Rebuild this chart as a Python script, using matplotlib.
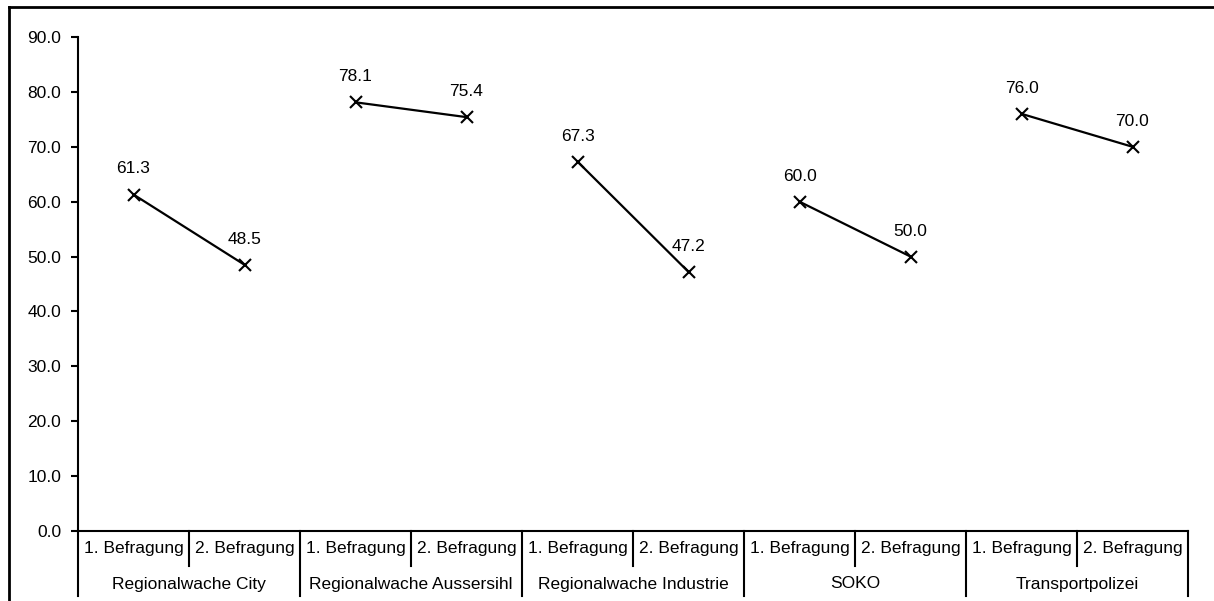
import matplotlib
matplotlib.use("Agg")
import matplotlib.pyplot as plt
from matplotlib.lines import Line2D
import matplotlib.transforms as mtransforms

plt.rcParams['font.family'] = ['Liberation Sans', 'DejaVu Sans']

groups = ["Regionalwache City", "Regionalwache Aussersihl", "Regionalwache Industrie",
          "SOKO", "Transportpolizei"]
surveys = ["1. Befragung", "2. Befragung"]
first = [61.3, 78.1, 67.3, 60.0, 76.0]
second = [48.5, 75.4, 47.2, 50.0, 70.0]

fs = 12.5

fig = plt.figure(figsize=(12.14, 6.01), dpi=100)
ax = fig.add_axes([78 / 1214, 1 - 531 / 601, 1110 / 1214, 494 / 601])

for i, g in enumerate(groups):
    xs = [2 * i + 0.5, 2 * i + 1.5]
    ys = [first[i], second[i]]
    ax.plot(xs, ys, color='black', lw=1.6, marker='x', ms=9, mew=1.5)
    for x, y in zip(xs, ys):
        ax.annotate(f"{y:.1f}", (x, y), xytext=(0, 13), textcoords='offset points',
                    ha='center', va='bottom', fontsize=fs)

ax.set_xlim(0, 10)
ax.set_ylim(0, 90)
ax.set_yticks(range(0, 91, 10))
ax.set_yticklabels([f"{v:.1f}" for v in range(0, 91, 10)], fontsize=fs)
ax.tick_params(axis='y', direction='out', length=5, width=1.5, pad=7)
ax.set_xticks([])
for s in ['top', 'right']:
    ax.spines[s].set_visible(False)
ax.spines['left'].set_linewidth(1.5)
ax.spines['bottom'].set_linewidth(1.5)

# multi-level category axis
trans = mtransforms.blended_transform_factory(ax.transData, fig.transFigure)
row1_bot = 1 - 566 / 601
row2_bot = 1 - 596 / 601
y0 = 1 - 531 / 601
for k in range(11):
    bot = row2_bot if k % 2 == 0 else row1_bot
    fig.add_artist(Line2D([k, k], [y0, bot], transform=trans, color='black', lw=1.5))
for i, g in enumerate(groups):
    for j, s in enumerate(surveys):
        fig.text(2 * i + j + 0.5, 1 - 549 / 601, s, transform=trans,
                 ha='center', va='center', fontsize=fs)
    fig.text(2 * i + 1, 1 - 584 / 601, g, transform=trans,
             ha='center', va='center', fontsize=fs)

# chart-area border
fig.add_artist(Line2D([9 / 1214, 1.0], [1 - 7 / 601, 1 - 7 / 601],
                      transform=fig.transFigure, color='black', lw=2))
fig.add_artist(Line2D([9 / 1214, 9 / 1214], [1 - 7 / 601, 0],
                      transform=fig.transFigure, color='black', lw=2))

fig.savefig("out.png", dpi=100)
